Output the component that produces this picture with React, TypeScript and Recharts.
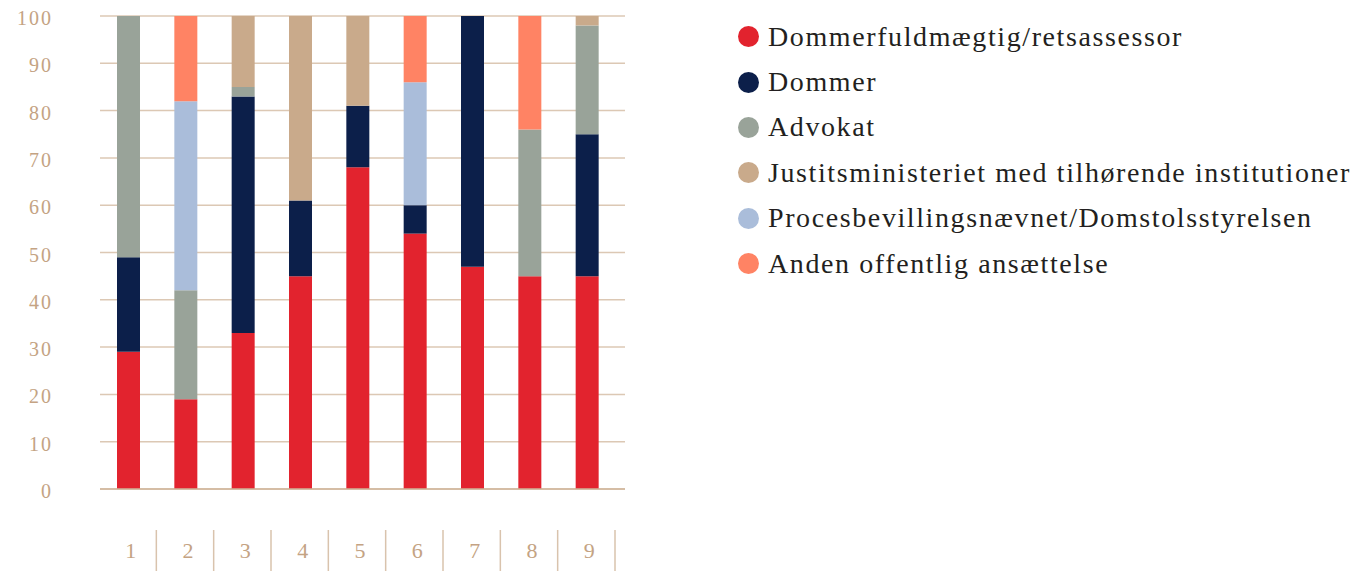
import React from 'react';
import { BarChart, Bar, XAxis, YAxis, CartesianGrid } from 'recharts';

const categories = ['1', '2', '3', '4', '5', '6', '7', '8', '9'];
const dommerfuldmaegtig = [29, 19, 33, 45, 68, 54, 47, 45, 45];
const dommer = [20, 0, 50, 16, 13, 6, 53, 0, 30];
const advokat = [51, 23, 2, 0, 0, 0, 0, 31, 23];
const justits = [0, 0, 15, 39, 19, 0, 0, 0, 2];
const proces = [0, 40, 0, 0, 0, 26, 0, 0, 0];
const anden = [0, 18, 0, 0, 0, 14, 0, 24, 0];
const yTicks = [0, 10, 20, 30, 40, 50, 60, 70, 80, 90, 100];

const seriesDefs = [
  { key: 'a', name: 'Dommerfuldmægtig/retsassessor', color: '#e2232e', values: dommerfuldmaegtig },
  { key: 'b', name: 'Dommer', color: '#0c1f4a', values: dommer },
  { key: 'c', name: 'Advokat', color: '#99a399', values: advokat },
  { key: 'd', name: 'Justitsministeriet med tilhørende institutioner', color: '#c9aa8b', values: justits },
  { key: 'e', name: 'Procesbevillingsnævnet/Domstolsstyrelsen', color: '#aabdda', values: proces },
  { key: 'f', name: 'Anden offentlig ansættelse', color: '#ff8364', values: anden },
];

const data = categories.map((c, i) => {
  const row: Record<string, string | number> = { cat: c };
  seriesDefs.forEach((s) => {
    row[s.key] = s.values[i];
  });
  return row;
});

const TAN = '#c4a383';
const FONT = '"Liberation Serif", "DejaVu Serif", serif';
const BAND = 516 / 9;

const XTick = (props: any) => {
  const { x, y, payload } = props;
  return (
    <g>
      <text x={x + 2} y={y + 69} textAnchor="middle" fill={TAN} fontSize={22} fontFamily={FONT}>
        {payload.value}
      </text>
      <line x1={x + BAND / 2 - 1} x2={x + BAND / 2 - 1} y1={y + 41} y2={y + 84} stroke="#d9c3ad" strokeWidth={1.5} />
    </g>
  );
};

const YTick = (props: any) => {
  const { x, y, payload } = props;
  return (
    <text x={x} y={y + 9} textAnchor="end" fill={TAN} fontSize={20} fontFamily={FONT} letterSpacing={2}>
      {payload.value}
    </text>
  );
};

export default function App() {
  return (
    <div style={{ position: 'absolute', left: 0, top: 0, width: 1359, height: 571, background: '#fff' }}>
      <BarChart
        width={1359}
        height={571}
        data={data}
        margin={{ top: 16, right: 734, bottom: 0, left: 0 }}
      >
        <CartesianGrid vertical={false} stroke="#dcc8b4" strokeWidth={1.5} />
        <XAxis
          dataKey="cat"
          height={82}
          tick={<XTick />}
          tickLine={false}
          tickSize={0}
          tickMargin={0}
          axisLine={{ stroke: '#cfb49a', strokeWidth: 1.5 }}
          padding={{ left: 0, right: 9 }}
          interval={0}
        />
        <YAxis
          width={100}
          domain={[0, 100]}
          ticks={yTicks}
          tick={<YTick />}
          tickLine={false}
          axisLine={false}
          tickSize={0}
          tickMargin={47}
          interval={0}
        />
        {seriesDefs.map((s) => (
          <Bar key={s.key} dataKey={s.key} name={s.name} stackId="s" fill={s.color} barSize={23} isAnimationActive={false} />
        ))}
      </BarChart>
      <div style={{ position: 'absolute', left: 738, top: 14, fontFamily: FONT, color: '#231f20' }}>
        {seriesDefs.map((s) => (
          <div key={s.key} style={{ display: 'flex', alignItems: 'center', height: 45.4, fontSize: 28, letterSpacing: 1.6, whiteSpace: 'nowrap' }}>
            <span style={{ display: 'inline-block', width: 21, height: 21, borderRadius: '50%', background: s.color, marginRight: 9 }} />
            <span>{s.name}</span>
          </div>
        ))}
      </div>
    </div>
  );
}
